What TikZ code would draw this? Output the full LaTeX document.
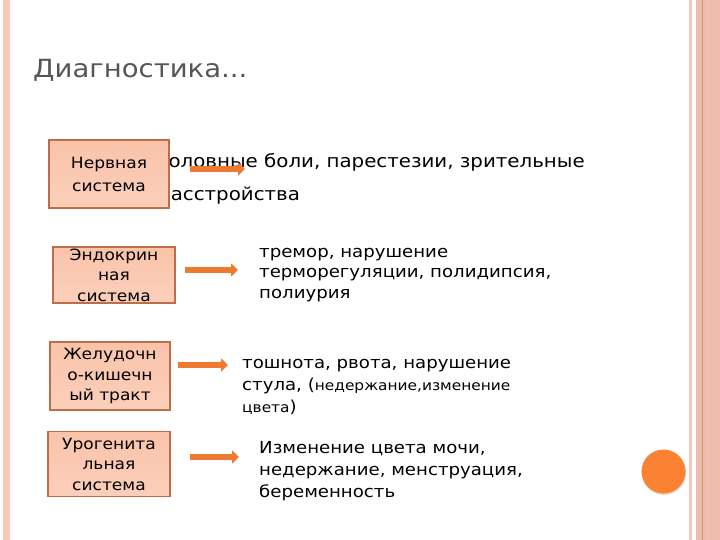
\documentclass[tikz,border=0pt]{standalone}
\usepackage{fontspec}
\setmainfont{DejaVu Sans}[FakeStretch=1.1]
\usepackage{tikz}
\usetikzlibrary{arrows.meta,positioning,calc}
\definecolor{BandPink}{RGB}{250,200,185}
\definecolor{BandDark}{RGB}{236,188,172}
\definecolor{BandLine}{RGB}{222,140,108}
\definecolor{DotOrange}{RGB}{250,130,50}
\definecolor{BoxFill}{RGB}{250,195,170}
\definecolor{BoxEdge}{RGB}{190,110,70}
\definecolor{ArrOrange}{RGB}{238,122,50}
\definecolor{TitleGray}{RGB}{85,85,90}
\tikzset{
  sysbox/.style={rectangle,draw=BoxEdge,line width=1.4pt,
                 top color=BoxFill,bottom color=BoxFill!80!white,
                 minimum width=120pt,inner sep=0pt,align=center,
                 font=\fontsize{15.5}{20.5}\selectfont},
  symtxt/.style={anchor=base west,inner sep=0pt,align=left,
                 font=\fontsize{16.5}{21}\selectfont},
  arr/.style={-{Triangle[length=7pt,width=13pt]},line width=5.5pt,ArrOrange},
}
\begin{document}
\begin{tikzpicture}[x=1pt,y=-1pt]
  \useasboundingbox (0,0) rectangle (720,540);
  % borders
  \fill[BandPink] (3,0) rectangle (9.5,540);
  \fill[BandPink] (688.5,0) rectangle (691.5,540);
  \fill[BandDark] (696,0) rectangle (720,540);
  \fill[BandLine] (701.5,0) rectangle (703,540);
  \fill[BandPink!80!BandLine] (706.5,0) rectangle (710,540);
  \fill[DotOrange!70!black,opacity=0.25] (664,473) circle (22);
  \fill[DotOrange] (663.5,471.5) circle (22);
  % title
  \node[anchor=base west,inner sep=0pt,text=TitleGray,
        font=\fontsize{25}{30}\selectfont] (title) at (33,78) {Диагностика...};
  % row 1 (last baseline given)
  \node[anchor=base west,inner sep=0pt,align=left,
        font=\fontsize{18}{33}\selectfont] (t1) at (158,201)
        {головные боли, парестезии, зрительные\\расстройства};
  \node[sysbox,minimum width=120pt,minimum height=68pt,
        font=\fontsize{15.5}{23}\selectfont] (b1) at (109,174)
        {Нервная\\система};
  \coordinate (a1s) at (190,169); \coordinate (a1e) at (245,169);
  \draw[arr] (a1s) -- (a1e);
  % row 2
  \node[sysbox,minimum width=122pt,minimum height=56pt] (b2) at (114,275)
        {Эндокрин\\ная\\система};
  \coordinate (a2s) at (185,270); \coordinate (a2e) at (238,270);
  \draw[arr] (a2s) -- (a2e);
  \node[symtxt,font=\fontsize{16.5}{20}\selectfont] (t2) at (259,298)
        {тремор, нарушение\\терморегуляции, полидипсия,\\полиурия};
  % row 3
  \node[sysbox,minimum width=120pt,minimum height=68pt] (b3) at (110,376)
        {Желудочн\\о-кишечн\\ый тракт};
  \coordinate (a3s) at (178,365); \coordinate (a3e) at (228,365);
  \draw[arr] (a3s) -- (a3e);
  \node[symtxt,font=\fontsize{16.5}{22}\selectfont] (t3) at (242,412)
        {тошнота, рвота, нарушение\\стула, ({\fontsize{14}{16}\selectfont недержание,изменение}\\{\fontsize{14}{16}\selectfont цвета})};
  % row 4
  \node[sysbox,minimum width=122pt,minimum height=65pt] (b4) at (109,464)
        {Урогенита\\льная\\система};
  \coordinate (a4s) at (190,457); \coordinate (a4e) at (239,457);
  \draw[arr] (a4s) -- (a4e);
  \node[symtxt,font=\fontsize{16.5}{22}\selectfont] (t4) at (259,497)
        {Изменение цвета мочи,\\недержание, менструация,\\беременность};
\end{tikzpicture}
\end{document}
